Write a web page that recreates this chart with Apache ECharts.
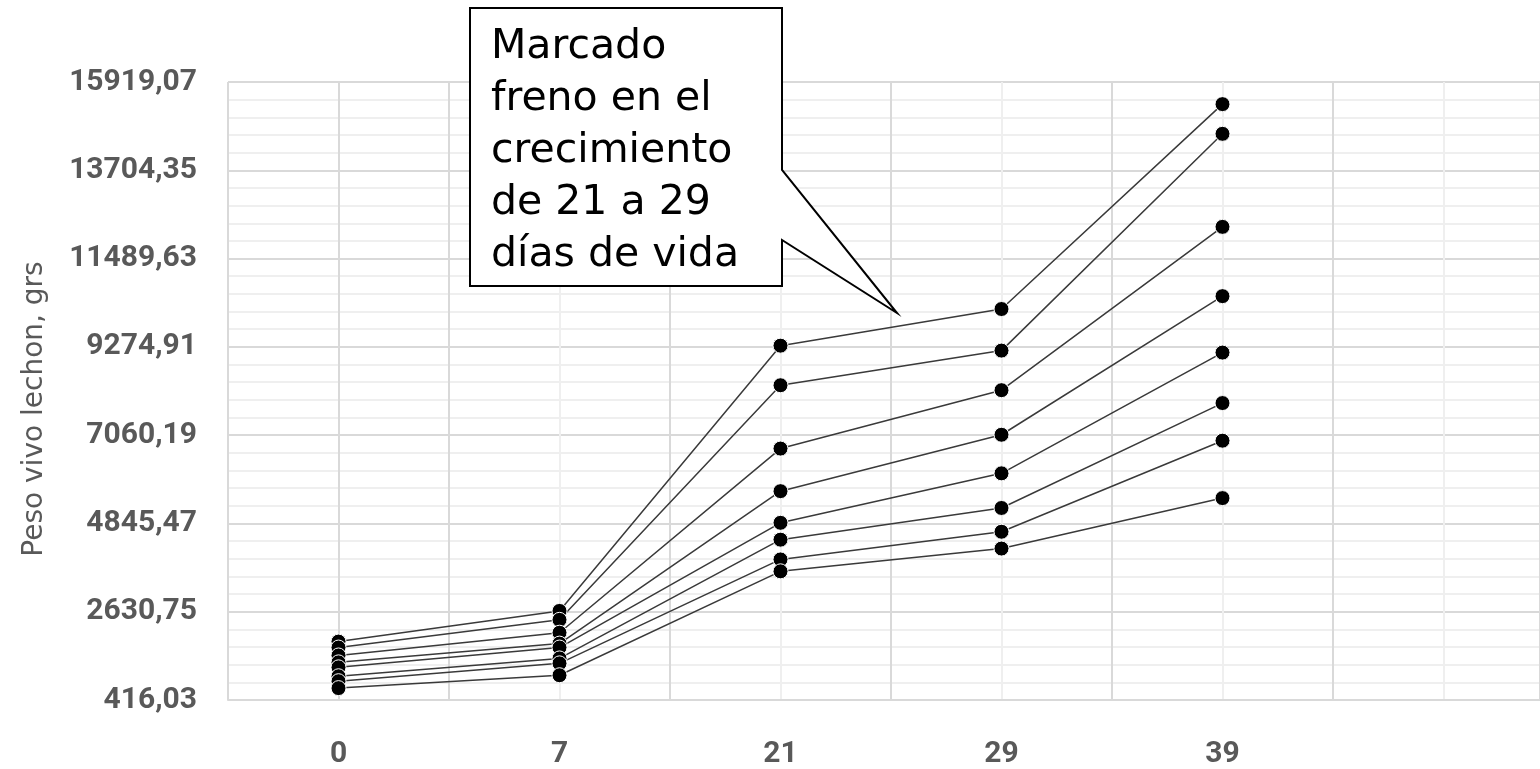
<!DOCTYPE html>
<html>
<head>
<meta charset="utf-8">
<script src="https://cdn.jsdelivr.net/npm/echarts@6/dist/echarts.min.js"></script>
<style>
html,body{margin:0;padding:0;background:#fff;}
#c{width:1540px;height:769px;}
</style>
</head>
<body>
<div id="c"></div>
<script>
// ---- data ----
var days = ['0', '7', '21', '29', '39'];
var s1 = [1881, 2651, 9305, 10224, 15364];
var s2 = [1732, 2427, 8312, 9181, 14619];
var s3 = [1533, 2104, 6723, 8188, 12285];
var s4 = [1360, 1831, 5655, 7070, 10547];
var s5 = [1235, 1732, 4861, 6102, 9131];
var s6 = [1012, 1459, 4438, 5233, 7865];
var s7 = [888, 1335, 3942, 4637, 6921];
var s8 = [714, 1037, 3644, 4215, 5481];
var yTickLabels = ['416,03', '2630,75', '4845,47', '7060,19', '9274,91', '11489,63', '13704,35', '15919,07'];
var yBase = 416.03;
var yStep = 2214.72;
var yAxisName = 'Peso vivo lechon, grs';
var calloutText = 'Marcado\nfreno en el\ncrecimiento\nde 21 a 29\ndías de vida';

var allSeries = [s1, s2, s3, s4, s5, s6, s7, s8];

var chart = echarts.init(document.getElementById('c'));
var majorColor = '#d9d9d9';
var minorColor = '#efefef';
var labelColor = '#595959';

var series = allSeries.map(function (arr) {
  return {
    type: 'line',
    data: arr.map(function (v, i) { return [i, v - yBase]; }),
    symbol: 'circle',
    symbolSize: 15,
    itemStyle: { color: '#000', borderColor: '#fff', borderWidth: 1 },
    lineStyle: { color: '#3a3a3a', width: 1.5 },
    emphasis: { disabled: true },
    animation: false
  };
});

var option = {
  animation: false,
  grid: { left: 228, right: 0, top: 82, bottom: 64, containLabel: false },
  xAxis: {
    type: 'value',
    min: -0.5,
    max: -0.5 + 1312 / 221,
    interval: 0.5,
    axisLine: { show: true, lineStyle: { color: majorColor, width: 2 } },
    axisTick: { show: false },
    splitLine: { show: true, lineStyle: { color: [majorColor, minorColor], width: 2 } },
    axisLabel: {
      color: labelColor, fontFamily: 'Roboto', fontWeight: 'bold', fontSize: 30, margin: 39,
      showMaxLabel: false,
      formatter: function (v) {
        var r = Math.round(v);
        return (Math.abs(v - r) < 1e-6 && days[r] !== undefined) ? days[r] : '';
      }
    }
  },
  yAxis: {
    type: 'value',
    min: 0,
    max: yStep * 7,
    interval: yStep,
    name: yAxisName,
    nameLocation: 'middle',
    nameGap: 179,
    nameRotate: 90,
    nameTextStyle: { color: labelColor, fontFamily: 'DejaVu Sans', fontSize: 28, padding: [0, 36, 0, 0] },
    axisLine: { show: true, lineStyle: { color: majorColor, width: 2 } },
    axisTick: { show: false },
    axisLabel: {
      color: labelColor, fontFamily: 'Roboto', fontWeight: 'bold', fontSize: 30, margin: 31,
      formatter: function (v) { return yTickLabels[Math.round(v / yStep)] || ''; }
    },
    splitLine: { show: true, lineStyle: { color: majorColor, width: 2 } },
    minorTick: { show: false, splitNumber: 5 },
    minorSplitLine: { show: true, lineStyle: { color: minorColor, width: 2 } }
  },
  series: series,
  graphic: [
    {
      type: 'polygon',
      z: 100,
      shape: { points: [[470, 8], [782, 8], [782, 170], [897, 313], [782, 240], [782, 286], [470, 286]] },
      style: { fill: '#fff', stroke: '#000', lineWidth: 2 }
    },
    {
      type: 'text',
      z: 101,
      left: 491,
      top: 21,
      style: { text: calloutText, font: '41px "DejaVu Sans"', fill: '#000', lineHeight: 52 }
    }
  ]
};
chart.setOption(option);
</script>
</body>
</html>
